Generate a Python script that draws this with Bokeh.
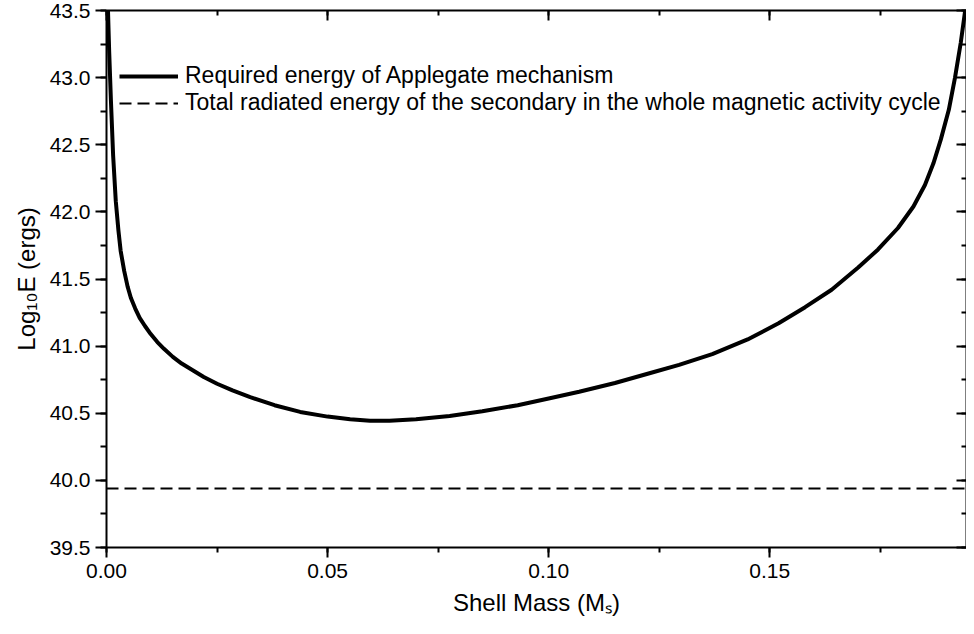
from bokeh.plotting import figure
from bokeh.models import (Range1d, LinearAxis, SingleIntervalTicker, NumeralTickFormatter,
                          CustomJSTickFormatter, Legend, LegendItem)
from bokeh.embed import file_html
from bokeh.resources import INLINE

# ---- data ----
shell_mass = [0.00025, 0.0006, 0.0010, 0.0015, 0.0021, 0.0027, 0.0032, 0.0040, 0.0048,
              0.0055, 0.0065, 0.0075, 0.0087, 0.0100, 0.0115, 0.0130, 0.0150, 0.0170,
              0.0195, 0.0220, 0.0250, 0.0285, 0.0325, 0.0380, 0.0438, 0.0500, 0.0551,
              0.0596, 0.0640, 0.0700, 0.0776, 0.0850, 0.0930, 0.1000, 0.1069, 0.1150,
              0.1230, 0.1295, 0.1370, 0.1450, 0.1520, 0.1580, 0.1640, 0.1700, 0.1745,
              0.1790, 0.1825, 0.1851, 0.1870, 0.1887, 0.1905, 0.1919, 0.1932, 0.1942,
              0.1950]
log_energy = [43.60, 43.20, 42.83, 42.42, 42.08, 41.86, 41.71, 41.56, 41.44,
              41.36, 41.28, 41.21, 41.15, 41.09, 41.03, 40.98, 40.92, 40.87,
              40.82, 40.77, 40.72, 40.67, 40.62, 40.56, 40.51, 40.475, 40.455,
              40.445, 40.445, 40.455, 40.48, 40.515, 40.56, 40.61, 40.66, 40.725,
              40.80, 40.86, 40.94, 41.05, 41.17, 41.29, 41.42, 41.585, 41.72,
              41.88, 42.04, 42.20, 42.36, 42.54, 42.76, 43.00, 43.26, 43.50,
              43.70]
radiated_x = [0.0, 0.1957]
radiated_E = [39.94, 39.94]

x_tick_interval = 0.05
y_tick_interval = 0.5
X_MIN, X_MAX = 0.0, 0.1945
Y_MIN, Y_MAX = 39.5, 43.5

x_title = "Shell Mass (M\u209b)"
y_title = "Log\u2081\u2080E (ergs)"
legend_labels = ["Required energy of Applegate mechanism",
                 "Total radiated energy of the secondary in the whole magnetic activity cycle"]

FONT = "Liberation Sans"
W, H = 966, 618

p = figure(width=W, height=H, output_backend="svg", toolbar_location=None,
           x_range=Range1d(X_MIN, X_MAX), y_range=Range1d(Y_MIN, Y_MAX),
           x_axis_type=None, y_axis_type=None,
           min_border_left=106, min_border_right=0, min_border_top=10, min_border_bottom=71)
p.outline_line_color = None
p.background_fill_color = "white"
p.border_fill_color = "white"

xt = SingleIntervalTicker(interval=x_tick_interval, num_minor_ticks=2)
yt = SingleIntervalTicker(interval=y_tick_interval, num_minor_ticks=2)


def style(ax):
    ax.axis_line_width = 2
    ax.axis_line_color = "black"
    ax.major_tick_line_width = 2
    ax.minor_tick_line_width = 2
    ax.major_tick_line_color = "black"
    ax.minor_tick_line_color = "black"
    ax.major_label_text_font = FONT
    ax.major_label_text_font_size = "21px"
    ax.major_label_text_color = "black"
    ax.axis_label_text_font = FONT
    ax.axis_label_text_font_size = "24px"
    ax.axis_label_text_font_style = "normal"
    ax.axis_label_text_color = "black"


bottom = LinearAxis(ticker=xt, formatter=NumeralTickFormatter(format="0.00"), axis_label=x_title)
style(bottom)
bottom.major_tick_out, bottom.major_tick_in = 10, 0
bottom.minor_tick_out, bottom.minor_tick_in = 5, 0
bottom.major_label_standoff = 6
bottom.axis_label_standoff = 8

left = LinearAxis(ticker=yt, formatter=NumeralTickFormatter(format="0.0"), axis_label=y_title)
style(left)
left.major_tick_out, left.major_tick_in = 11, 0
left.minor_tick_out, left.minor_tick_in = 6, 0
left.major_label_standoff = 5
left.axis_label_standoff = 7

blank = CustomJSTickFormatter(code="return ''")

top = LinearAxis(ticker=xt, formatter=blank)
style(top)
top.major_tick_out, top.major_tick_in = 0, 10
top.minor_tick_out, top.minor_tick_in = 0, 5
top.major_label_standoff = 0

right = LinearAxis(ticker=yt, formatter=blank)
style(right)
right.major_tick_out, right.major_tick_in = 0, 10
right.minor_tick_out, right.minor_tick_in = 0, 5
right.major_label_standoff = 0

p.add_layout(bottom, "below")
p.add_layout(left, "left")
p.add_layout(top, "above")
p.add_layout(right, "right")

r1 = p.line(shell_mass, log_energy, line_width=4, line_color="black", line_join="round")
r2 = p.line(radiated_x, radiated_E, line_width=2, line_color="black", line_dash="12 6")

legend = Legend(items=[LegendItem(label=legend_labels[0], renderers=[r1]),
                       LegendItem(label=legend_labels[1], renderers=[r2])],
                location=(13, 431), orientation="vertical",
                border_line_color=None, background_fill_alpha=0,
                label_text_font=FONT, label_text_font_size="23px", label_text_color="black",
                glyph_width=59, glyph_height=24, label_height=24,
                label_standoff=7, spacing=0, padding=0, margin=0)
p.add_layout(legend)

open("out.html", "w").write(file_html(p, INLINE))
